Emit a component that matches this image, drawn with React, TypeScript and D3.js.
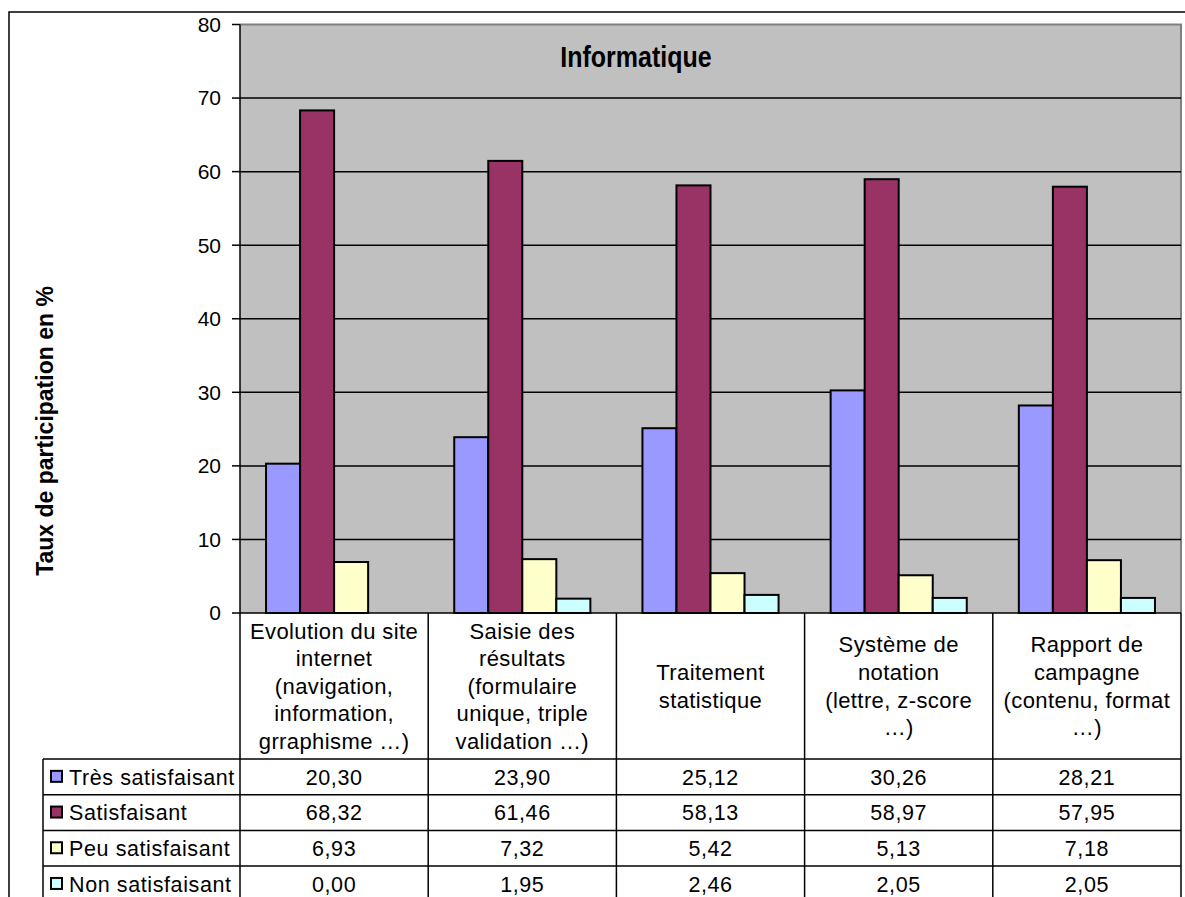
import { scaleLinear, scaleBand, range, formatLocale } from 'd3';

const categories = [
  ['Evolution du site', 'internet', '(navigation,', 'information,', 'grraphisme …)'],
  ['Saisie des', 'résultats', '(formulaire', 'unique, triple', 'validation …)'],
  ['Traitement', 'statistique'],
  ['Système de', 'notation', '(lettre, z-score', '…)'],
  ['Rapport de', 'campagne', '(contenu, format', '…)'],
];
const seriesNames = ['Très satisfaisant', 'Satisfaisant', 'Peu satisfaisant', 'Non satisfaisant'];
const tresSatisfaisant = [20.3, 23.9, 25.12, 30.26, 28.21];
const satisfaisant = [68.32, 61.46, 58.13, 58.97, 57.95];
const peuSatisfaisant = [6.93, 7.32, 5.42, 5.13, 7.18];
const nonSatisfaisant = [0.0, 1.95, 2.46, 2.05, 2.05];
const yTicks = [0, 10, 20, 30, 40, 50, 60, 70, 80];

const series = [tresSatisfaisant, satisfaisant, peuSatisfaisant, nonSatisfaisant];
const COLORS = ['#9999FF', '#993366', '#FFFFCC', '#CCFFFF'];

const W = 1185;
const H = 897;
const PLOT = { left: 240, right: 1181, top: 24.5, bottom: 613 };
const HEADER_BOTTOM = 759;
const ROW_H = 35.7;
const LEGEND_LEFT = 43;
const FONT = '"Liberation Sans", Arial, sans-serif';

const fr = formatLocale({ decimal: ',', thousands: ' ', grouping: [3], currency: ['', '€'] });
const fmt = fr.format('.2f');

export default function App() {
  const x = scaleBand<number>()
    .domain(range(categories.length))
    .range([PLOT.left, PLOT.right]);
  const xInner = scaleBand<number>()
    .domain(range(series.length))
    .range([0, x.bandwidth()])
    .paddingOuter(0.765);
  const y = scaleLinear().domain([0, 80]).range([PLOT.bottom, PLOT.top]);

  const colEdges = range(categories.length + 1).map(i =>
    i < categories.length ? (x(i) as number) : PLOT.right,
  );
  const rowTop = (r: number) => HEADER_BOTTOM + r * ROW_H;

  return (
    <svg
      width={W}
      height={H}
      style={{ position: 'absolute', left: 0, top: 0, background: '#fff' }}
      fontFamily={FONT}
    >
      {/* outer chart frame */}
      <rect x={9} y={12} width={W + 20} height={H + 20} fill="none" stroke="#000" strokeWidth={1.5} />

      {/* plot area */}
      <rect
        x={PLOT.left}
        y={PLOT.top}
        width={PLOT.right - PLOT.left}
        height={PLOT.bottom - PLOT.top}
        fill="#C0C0C0"
      />
      <path
        d={`M${PLOT.left},${PLOT.top}H${PLOT.right}V${PLOT.bottom}`}
        fill="none"
        stroke="#808080"
        strokeWidth={2}
      />

      {yTicks.slice(1, -1).map(t => (
        <line key={t} x1={PLOT.left} x2={PLOT.right} y1={y(t)} y2={y(t)} stroke="#000" strokeWidth={1.5} />
      ))}

      {/* y axis */}
      <line x1={PLOT.left} x2={PLOT.left} y1={PLOT.top} y2={PLOT.bottom} stroke="#000" strokeWidth={1.5} />
      {yTicks.map(t => (
        <g key={t} transform={`translate(0,${y(t)})`}>
          <line x1={PLOT.left - 8} x2={PLOT.left} stroke="#000" strokeWidth={1.5} />
          <text x={221} dy="0.35em" textAnchor="end" fontSize={21}>
            {t}
          </text>
        </g>
      ))}

      <text
        transform={`translate(53,431) rotate(-90)`}
        textAnchor="middle"
        fontSize={23}
        fontWeight="bold"
      >
        Taux de participation en %
      </text>

      <text
        transform="translate(636,67) scale(1,1.15)"
        textAnchor="middle"
        fontSize={25}
        fontWeight="bold"
      >
        Informatique
      </text>

      {/* bars */}
      {categories.map((_, ci) => (
        <g key={ci} transform={`translate(${x(ci)},0)`}>
          {series.map((vals, si) =>
            vals[ci] > 0 ? (
              <rect
                key={si}
                x={xInner(si)}
                y={y(vals[ci])}
                width={xInner.bandwidth()}
                height={y(0) - y(vals[ci])}
                fill={COLORS[si]}
                stroke="#000"
                strokeWidth={2}
              />
            ) : null,
          )}
        </g>
      ))}

      {/* data table */}
      <line x1={PLOT.left} x2={PLOT.right} y1={PLOT.bottom} y2={PLOT.bottom} stroke="#000" strokeWidth={1.5} />
      {colEdges.map((cx, i) => (
        <line key={i} x1={cx} x2={cx} y1={PLOT.bottom} y2={H + 10} stroke="#000" strokeWidth={1.5} />
      ))}
      <line x1={LEGEND_LEFT} x2={LEGEND_LEFT} y1={HEADER_BOTTOM} y2={H + 10} stroke="#000" strokeWidth={1.5} />
      {range(series.length + 1).map(r => (
        <line
          key={r}
          x1={LEGEND_LEFT}
          x2={PLOT.right}
          y1={rowTop(r)}
          y2={rowTop(r)}
          stroke="#000"
          strokeWidth={1.5}
        />
      ))}

      {categories.map((lines, ci) => {
        const cx = (x(ci) as number) + x.bandwidth() / 2;
        const lh = 27.6;
        const cy = (PLOT.bottom + HEADER_BOTTOM) / 2;
        const y0 = cy - ((lines.length - 1) * lh) / 2;
        return (
          <text key={ci} textAnchor="middle" fontSize={22} letterSpacing={0.4}>
            {lines.map((l, li) => (
              <tspan key={li} x={cx} y={y0 + li * lh} dy="0.35em">
                {l}
              </tspan>
            ))}
          </text>
        );
      })}

      {seriesNames.map((name, si) => {
        const cy = rowTop(si) + ROW_H / 2;
        return (
          <g key={name}>
            <rect x={51} y={cy - 6} width={11} height={11} fill={COLORS[si]} stroke="#000" strokeWidth={2} />
            <text x={69} y={cy} dy="0.36em" fontSize={21.5} letterSpacing={0.6}>
              {name}
            </text>
            {series[si].map((v, ci) => (
              <text
                key={ci}
                x={(x(ci) as number) + x.bandwidth() / 2}
                y={cy}
                dy="0.36em"
                textAnchor="middle"
                fontSize={21.5}
                letterSpacing={0.6}
              >
                {fmt(v)}
              </text>
            ))}
          </g>
        );
      })}
    </svg>
  );
}
